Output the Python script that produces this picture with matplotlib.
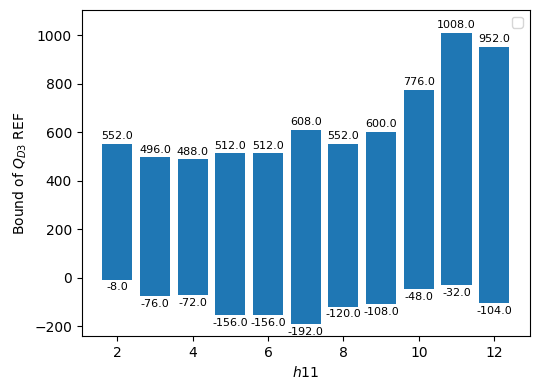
import matplotlib.pyplot as plt

#bounds per h11 value
h11 = [2, 3, 4, 5, 6, 7, 8, 9, 10, 11, 12]
upper = [552.0, 496.0, 488.0, 512.0, 512.0, 608.0, 552.0, 600.0, 776.0, 1008.0, 952.0]
lower = [-8.0, -76.0, -72.0, -156.0, -156.0, -192.0, -120.0, -108.0, -48.0, -32.0, -104.0]

fig, ax = plt.subplots(figsize=(5.38, 3.9), dpi=100)

heights = [u - l for u, l in zip(upper, lower)]
ax.bar(h11, heights, bottom=lower, color='#1f77b4')

#value labels above and below each bar
for x, u, l in zip(h11, upper, lower):
    ax.annotate(str(u), (x, u), xytext=(0, 2), textcoords='offset points',
                ha='center', va='bottom', fontsize=8)
    ax.annotate(str(l), (x, l), xytext=(0, -2), textcoords='offset points',
                ha='center', va='top', fontsize=8)

ax.set_ylim(-240, 1105)
ax.set_xlabel('$h11$')
ax.set_ylabel('Bound of $Q_{D3}$ REF')
ax.legend(handles=[])

fig.subplots_adjust(left=0.152, right=0.9845, top=0.975, bottom=0.139)
plt.savefig('out.png')
